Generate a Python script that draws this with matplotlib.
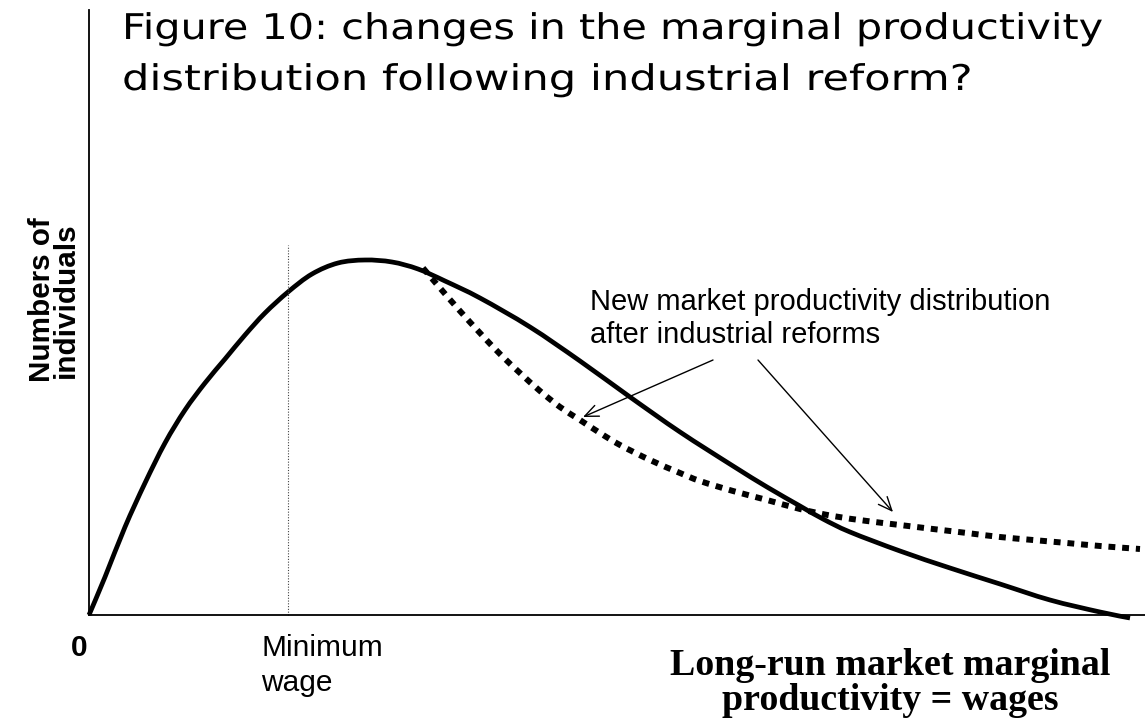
import matplotlib
matplotlib.use('Agg')
import matplotlib.pyplot as plt
import matplotlib.patheffects as pe
from matplotlib.path import Path
from matplotlib.patches import PathPatch
from matplotlib.transforms import Affine2D

W, H = 1145, 721

# Original distribution (wage, number of individuals) in chart units
wage_old = [0, 16, 36, 56, 76, 96, 116, 136, 156, 176, 199, 223, 249, 276, 303,
            329, 356, 391, 441, 491, 541, 591, 644, 678, 711, 734, 761, 811,
            861, 911, 961, 1011, 1041]
count_old = [0, 38, 88, 132, 172, 205, 232, 256, 280, 302, 323, 341, 352, 355, 353,
             346, 334, 317, 288, 254, 218, 183, 149, 128, 109, 96, 83, 64,
             47, 31, 15, 3, -3]

# New distribution after industrial reforms
wage_new = [334, 351, 371, 391, 411, 431, 451, 471, 491, 511, 531, 561, 591, 611,
            644, 678, 711, 744, 778, 811, 844, 878, 911, 944, 978, 1011, 1051]
count_new = [347, 327, 304, 282, 261, 242, 224, 208, 195, 182, 170, 155, 142, 134,
             124, 115, 106, 99, 94, 90, 86, 82, 78, 75, 72, 69, 66]

min_wage = 199
min_wage_top = 370

title_lines = ["Figure 10: changes in the marginal productivity",
               "distribution following industrial reform?"]
ylabel_text = "Numbers of\nindividuals"
xlabel_lines = ["Long-run market marginal", "productivity = wages"]
minwage_lines = ["Minimum", "wage"]
note_lines = ["New market productivity distribution", "after industrial reforms"]


def fx(x):
    return x / W


def fy(y):
    return 1 - y / H


def smooth_path(xs, ys):
    """Catmull-Rom curve through the given points, as cubic Bezier segments."""
    pts = list(zip(xs, ys))
    n = len(pts)
    verts = [pts[0]]
    codes = [Path.MOVETO]
    for i in range(n - 1):
        p0 = pts[i - 1] if i > 0 else pts[i]
        p1 = pts[i]
        p2 = pts[i + 1]
        p3 = pts[i + 2] if i + 2 < n else pts[i + 1]
        c1 = (p1[0] + (p2[0] - p0[0]) / 6, p1[1] + (p2[1] - p0[1]) / 6)
        c2 = (p2[0] - (p3[0] - p1[0]) / 6, p2[1] - (p3[1] - p1[1]) / 6)
        verts += [c1, c2, p2]
        codes += [Path.CURVE4] * 3
    return Path(verts, codes)


class HStretch(pe.AbstractPathEffect):
    """Widen text horizontally about its left edge (x0 in pixels)."""
    def __init__(self, sx, x0):
        super().__init__()
        self.sx = sx
        self.x0 = x0

    def draw_path(self, renderer, gc, tpath, affine, rgbFace=None):
        t = affine + Affine2D().translate(-self.x0, 0).scale(self.sx, 1).translate(self.x0, 0)
        renderer.draw_path(gc, tpath, t, rgbFace)


fig = plt.figure(figsize=(W / 100, H / 100), dpi=100)
ax = fig.add_axes([fx(89), fy(615), fx(1145 - 89), (615 - 10) / H])
ax.set_xlim(0, 1056)
ax.set_ylim(0, 605)
for s in ['top', 'right']:
    ax.spines[s].set_visible(False)
for s in ['left', 'bottom']:
    ax.spines[s].set_linewidth(1.3)
    ax.spines[s].set_color('black')
ax.set_xticks([])
ax.set_yticks([])

ax.plot([min_wage, min_wage], [0, min_wage_top], color='#444444', lw=0.8,
        linestyle=(0, (1, 1.5)), clip_on=False)

old_patch = PathPatch(smooth_path(wage_old, count_old), facecolor='none',
                      edgecolor='black', lw=3.4, clip_on=False,
                      capstyle='butt', joinstyle='round')
ax.add_patch(old_patch)
new_patch = PathPatch(smooth_path(wage_new, count_new), facecolor='none',
                      edgecolor='black', lw=4.3, clip_on=False,
                      linestyle=(0, (1.15, 1.15)), capstyle='butt')
ax.add_patch(new_patch)

arrow_kw = dict(arrowstyle='->,head_length=0.7,head_width=0.3', color='black',
                lw=1.0, shrinkA=0, shrinkB=0, mutation_scale=14)
ax.annotate('', xy=(494, 198), xytext=(624, 255), arrowprops=arrow_kw)
ax.annotate('', xy=(804, 103), xytext=(669, 255), arrowprops=arrow_kw)

# Title (wide, tracked-out look)
fig.text(fx(122), fy(39), title_lines[0], family='DejaVu Sans', fontsize=25.5,
         ha='left', va='baseline', path_effects=[HStretch(1.168, 122)])
fig.text(fx(122), fy(90), title_lines[1], family='DejaVu Sans', fontsize=25.5,
         ha='left', va='baseline', path_effects=[HStretch(1.22, 122)])

# Y label
fig.text(fx(54), fy(300), ylabel_text, family='Liberation Sans', weight='bold',
         fontsize=21.3, rotation=90, ha='center', va='center', linespacing=0.85,
         multialignment='center')

# Origin
fig.text(fx(87), fy(656), "0", family='Liberation Sans', weight='bold',
         fontsize=21.5, ha='right', va='baseline')

# Minimum wage
fig.text(fx(261), fy(656), minwage_lines[0], family='Liberation Sans',
         fontsize=21.5, ha='left', va='baseline')
fig.text(fx(261), fy(691), minwage_lines[1], family='Liberation Sans',
         fontsize=21.5, ha='left', va='baseline')

# Note
fig.text(fx(590), fy(310), note_lines[0], family='Liberation Sans',
         fontsize=21, ha='left', va='baseline')
fig.text(fx(590), fy(343), note_lines[1], family='Liberation Sans',
         fontsize=21, ha='left', va='baseline')

# X label
fig.text(fx(890), fy(675), xlabel_lines[0], family='Liberation Serif', weight='bold',
         fontsize=27.3, ha='center', va='baseline')
fig.text(fx(890), fy(710), xlabel_lines[1], family='Liberation Serif', weight='bold',
         fontsize=27.3, ha='center', va='baseline')

fig.savefig('out.png', dpi=100, facecolor='white')
